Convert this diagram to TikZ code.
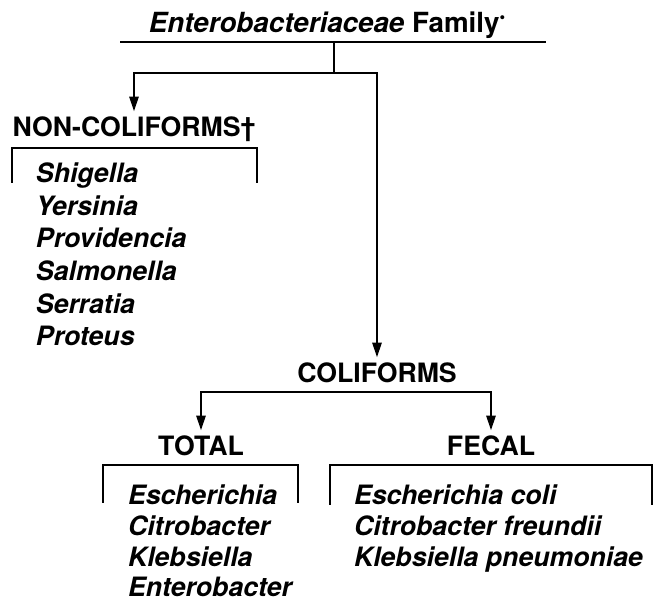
\documentclass[tikz,border=0pt]{standalone}
\usepackage{fontspec}
\setmainfont{TeX Gyre Heros}
\usetikzlibrary{arrows.meta}

\begin{document}
\begin{tikzpicture}[x=0.75pt,y=-0.75pt,line width=1.5pt,
  head/.style={font=\bfseries\fontsize{20}{24}\selectfont,inner sep=3.75pt,anchor=base},
  genus/.style={font=\bfseries\itshape\fontsize{20}{24}\selectfont,inner sep=0pt,anchor=base west},
  arr/.style={-{Triangle[length=11pt,width=7pt]}}]
\useasboundingbox (0,0) rectangle (654,602);
% family at the top
\node (fam) [anchor=base,inner sep=0pt,font=\bfseries\fontsize{20.8}{24}\selectfont] at (327,33)
  {\textit{Enterobacteriaceae} Family\raisebox{8pt}{\fontsize{12}{12}\selectfont\textbullet}};
\coordinate (famL) at (120,42);
\coordinate (famR) at (546,42);
\coordinate (famdrop) at (334,42);
\coordinate (split) at (334,73);
\draw (famL) -- (famR);
\draw (famdrop) -- (split);

\node (noncoli) [head] at (134,137) {NON-COLIFORMS\textdagger};
\node (coli) [head] at (377,383) {COLIFORMS};
\draw[arr] (split) -| (noncoli);
\draw[arr] (split) -| (coli);

\coordinate (colibar) at (377,392);
\node (total) [head] at (201,456) {TOTAL};
\node (fecal) [head] at (491,456) {FECAL};
\draw[arr] (colibar) -| (total);
\draw[arr] (colibar) -| (fecal);

% brackets
\draw (12,183) |- (257,148) -- (257,183);
\draw (103,503) |- (298,465) -- (298,503);
\draw (330,505) |- (652,465) -- (652,505);

% non-coliforms
\node (shig) [genus] at (35,183) {Shigella};
\node (yers) [genus] at (35,216) {Yersinia};
\node (prov) [genus] at (35,248) {Providencia};
\node (salm) [genus] at (35,281) {Salmonella};
\node (serr) [genus] at (35,314) {Serratia};
\node (prot) [genus] at (35,346) {Proteus};

% total coliforms
\node (esch) [genus] at (127,504) {Escherichia};
\node (citr) [genus] at (127,535) {Citrobacter};
\node (kleb) [genus] at (127,566) {Klebsiella};
\node (ente) [genus] at (127,596) {Enterobacter};

% fecal coliforms
\node (ecoli) [genus] at (353,504) {Escherichia coli};
\node (cfreu) [genus] at (353,535) {Citrobacter freundii};
\node (kpneu) [genus] at (353,566) {Klebsiella pneumoniae};
\end{tikzpicture}
\end{document}
